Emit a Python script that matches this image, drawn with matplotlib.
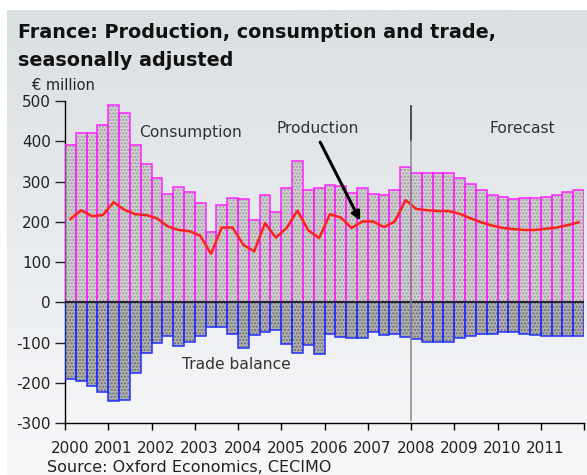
import matplotlib.pyplot as plt
import numpy as np

plt.rcParams['font.family'] = ['DejaVu Sans']
plt.rcParams['hatch.linewidth'] = 1.0

# quarterly data, 2000Q1 .. 2011Q4 (from 2008 on = forecast)
years = [2000, 2001, 2002, 2003, 2004, 2005, 2006, 2007, 2008, 2009, 2010, 2011]
consumption = [392, 420, 420, 441, 490, 469, 390, 344,
               308, 270, 287, 273, 246, 175, 242, 259,
               256, 204, 267, 225, 284, 351, 280, 283,
               291, 288, 272, 284, 270, 267, 278, 337,
               322, 322, 322, 322, 308, 295, 280, 267,
               263, 257, 259, 259, 263, 267, 274, 280]
production = [207, 229, 214, 217, 249, 230, 219, 217,
              209, 189, 180, 177, 166, 121, 186, 186,
              143, 127, 197, 161, 185, 228, 179, 160,
              219, 211, 185, 201, 201, 187, 201, 254,
              232, 229, 227, 227, 220, 209, 199, 191,
              185, 182, 180, 180, 183, 186, 192, 199]
trade = [-189, -195, -208, -222, -244, -241, -174, -125,
         -101, -84, -109, -97, -84, -60, -60, -77,
         -114, -80, -72, -67, -102, -126, -105, -129,
         -77, -85, -88, -88, -72, -80, -77, -85,
         -91, -98, -98, -98, -88, -84, -77, -77,
         -72, -72, -77, -80, -84, -84, -84, -84]

n = len(consumption)
x = np.arange(n) + 0.5

fig = plt.figure(figsize=(5.87, 4.75), dpi=100)
fig.patch.set_facecolor('white')

# background gradient panel
bg = fig.add_axes([7 / 587, 0, 1, 1 - 10 / 475])
grad = np.linspace(0, 1, 256).reshape(-1, 1)
top = np.array([218, 223, 226]) / 255
bot = np.array([247, 248, 250]) / 255
img = top + (bot - top) * grad[..., None]
bg.imshow(img, aspect='auto', extent=[0, 1, 0, 1])
bg.axis('off')

ax = fig.add_axes([65 / 587, 1 - 423.4 / 475, (584 - 65) / 587, (423.4 - 101) / 475])
ax.patch.set_alpha(0)

# consumption bars: hatched fill + magenta outline
ax.bar(x, consumption, width=1.0, color='#d0d0d0', edgecolor='#9c9c9c', hatch='.....', linewidth=0, zorder=2)
ax.bar(x, consumption, width=1.0, fill=False, edgecolor='#ff22ff', linewidth=1.1, zorder=3)
# trade balance bars
ax.bar(x, trade, width=1.0, color='#b0b0b0', edgecolor='#6c6c6c', hatch='.....', linewidth=0, zorder=2)
ax.bar(x, trade, width=1.0, fill=False, edgecolor='#2030ff', linewidth=1.1, zorder=3)

ax.axhline(0, color='#222222', lw=1.3, zorder=4)
ax.plot(x, production, color='#ff2020', lw=1.8, zorder=5)

# forecast divider
ax.plot([32, 32], [400, 487], color='#333333', lw=1.2, zorder=6, clip_on=False)
ax.plot([32, 32], [-292, 400], color='#8a8a8a', lw=1.4, zorder=6, alpha=0.8)

ax.set_xlim(0, n)
ax.set_ylim(-300, 500)

for s in ['top', 'right']:
    ax.spines[s].set_visible(False)
ax.spines['left'].set_linewidth(1.0)
ax.spines['bottom'].set_linewidth(1.0)

ax.set_yticks(np.arange(-300, 501, 100))
ax.set_yticklabels([str(v) for v in range(-300, 501, 100)])
ax.tick_params(axis='y', direction='out', length=7, width=1, labelsize=11, colors='#222222', pad=3)

ax.set_xticks(np.arange(0, n + 1, 4))
ax.set_xticklabels([])
ax.tick_params(axis='x', direction='out', length=5, width=1)
ax.set_xticks(np.arange(0, n, 4) + 0.45, minor=True)
ax.set_xticklabels([str(y) for y in years], minor=True)
ax.tick_params(axis='x', which='minor', length=0, labelsize=11, colors='#222222', pad=13)

# labels
ax.text(6.9, 423, 'Consumption', fontsize=11.2, color='#333333', va='center')
ax.text(19.6, 433, 'Production', fontsize=11.2, color='#333333', va='center')
ax.text(39.3, 433, 'Forecast', fontsize=11.2, color='#333333', va='center')
ax.text(10.8, -155, 'Trade balance', fontsize=11.2, color='#333333', va='center')
ax.annotate('', xy=(27.3, 203), xytext=(23.6, 398),
            arrowprops=dict(arrowstyle='-|>,head_length=0.5,head_width=0.25', color='black', lw=2.2,
                            shrinkA=0, shrinkB=0), zorder=7)

fig.text(18 / 587, 1 - 33 / 475, 'France: Production, consumption and trade,', fontsize=13.8,
         fontweight='bold', color='#111111', va='center')
fig.text(18 / 587, 1 - 60 / 475, 'seasonally adjusted', fontsize=13.8,
         fontweight='bold', color='#111111', va='center')
fig.text(32 / 587, 1 - 85 / 475, '€ million', fontsize=10.5, color='#222222', va='center')
fig.text(47 / 587, 1 - 467 / 475, 'Source: Oxford Economics, CECIMO', fontsize=11.5, color='#222222', va='center')

fig.savefig('out.png', dpi=100)
